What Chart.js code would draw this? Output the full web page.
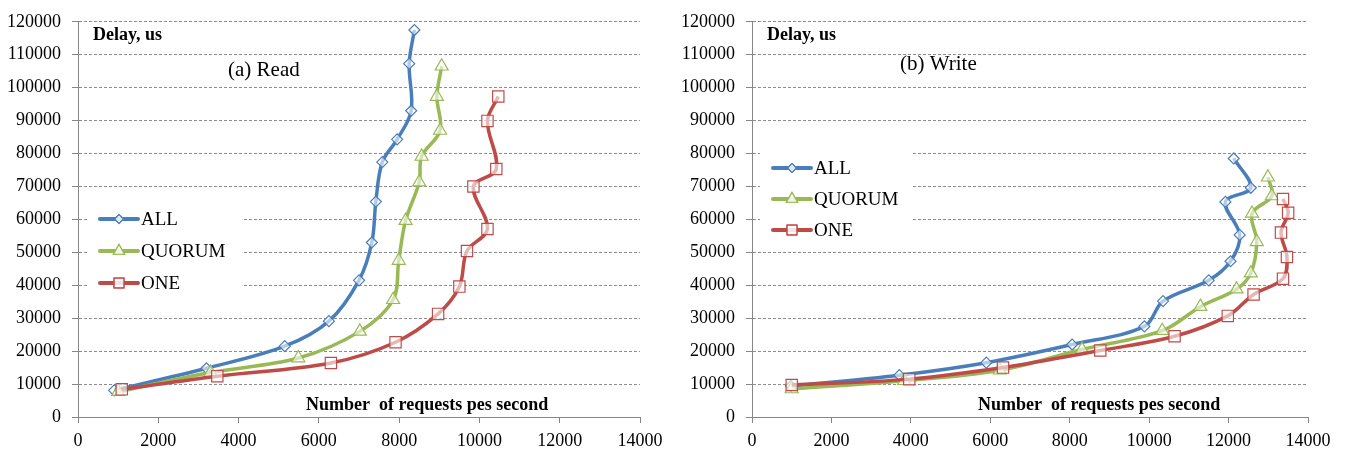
<!DOCTYPE html>
<html>
<head>
<meta charset="utf-8">
<script src="https://cdn.jsdelivr.net/npm/chart.js@4.4.0/dist/chart.umd.min.js"></script>
<style>
  body { margin: 0; background: #fff; }
  #wrap { position: relative; width: 1348px; height: 450px; }
  .box { position: absolute; top: 0; width: 674px; height: 450px; }
</style>
</head>
<body>
<div id="wrap">
  <div class="box" style="left:0"><canvas id="readChart" width="674" height="450"></canvas></div>
  <div class="box" style="left:674px"><canvas id="writeChart" width="674" height="450"></canvas></div>
</div>
<script>
// series / labels
var seriesNames = ['ALL', 'QUORUM', 'ONE'];
var xTicks = [0, 2000, 4000, 6000, 8000, 10000, 12000, 14000];
var yTicks = [0, 10000, 20000, 30000, 40000, 50000, 60000, 70000, 80000, 90000, 100000, 110000, 120000];

// (a) Read
var readAllX = [900, 3200, 5150, 6250, 7000, 7320, 7420, 7580, 7950, 8300, 8250, 8380];
var readAllY = [8100, 14800, 21500, 29100, 41500, 53000, 65400, 77400, 84300, 93000, 107300, 117500];
var readQuorumX = [1000, 3300, 5490, 7020, 7850, 7990, 8160, 8500, 8560, 9020, 8940, 9060];
var readQuorumY = [7700, 13500, 17900, 26000, 35600, 47500, 59600, 71300, 79100, 87000, 97300, 106500];
var readOneX = [1090, 3470, 6300, 7910, 8970, 9500, 9690, 10200, 9850, 10420, 10200, 10470];
var readOneY = [8400, 12400, 16400, 22700, 31300, 39600, 50400, 57100, 70000, 75300, 89900, 97300];

// (b) Write
var writeAllX = [980, 3710, 5900, 8060, 9880, 10350, 11500, 12050, 12280, 11920, 12560, 12130];
var writeAllY = [9400, 12700, 16500, 22000, 27500, 35200, 41500, 47300, 55300, 65300, 69600, 78500];
var writeQuorumX = [1000, 3830, 6240, 8310, 10330, 11290, 12200, 12560, 12710, 12590, 13090, 12990];
var writeQuorumY = [8500, 11000, 14200, 20500, 26200, 33500, 38800, 43700, 53200, 61800, 67100, 72800];
var writeOneX = [1000, 3960, 6320, 8770, 10640, 11980, 12630, 13370, 13470, 13320, 13500, 13370];
var writeOneY = [9700, 11500, 15000, 20200, 24500, 30700, 37200, 42000, 48600, 56000, 62000, 66200];

var colors = ['#4A7EBB', '#98B954', '#BE4B48'];
var shapes = ['rectRot', 'triangle', 'rect'];
var radii = [5.5, 7.5, 8];
var FONT = '"Liberation Serif", "Times New Roman", serif';

function pts(xs, ys) {
    var out = [];
    for (var i = 0; i < xs.length; i++) out.push({ x: xs[i], y: ys[i] });
    return out;
}

function makeSet(i, xs, ys) {
    return {
        label: seriesNames[i],
        data: pts(xs, ys),
        showLine: true,
        borderColor: colors[i],
        borderWidth: 3.5,
        tension: 0.35,
        pointStyle: shapes[i],
        pointRadius: radii[i],
        pointBorderWidth: 1.2,
        pointBorderColor: colors[i],
        pointBackgroundColor: 'rgba(255,255,255,0.6)',
        order: 3 - i
    };
}

// titles, axis captions and the legend box
var notes = {
    id: 'notes',
    afterDatasetsDraw: function (chart, args, o) {
        var ctx = chart.ctx;
        ctx.save();
        // legend
        var L = o.legend;
        ctx.fillStyle = '#fff';
        ctx.fillRect(L.box[0], L.box[1], L.box[2], L.box[3]);
        for (var i = 0; i < 3; i++) {
            var y = L.y + i * L.dy;
            ctx.beginPath();
            ctx.strokeStyle = colors[i];
            ctx.lineWidth = 4;
            ctx.lineCap = 'round';
            ctx.moveTo(L.x, y);
            ctx.lineTo(L.x + 38, y);
            ctx.stroke();
            ctx.lineWidth = 1.2;
            ctx.fillStyle = 'rgba(255,255,255,0.6)';
            Chart.helpers.drawPoint(ctx, { pointStyle: shapes[i], radius: radii[i] - 1, rotation: 0, borderWidth: 1.2 }, L.x + 19, y);
            ctx.fill();
            ctx.stroke();
            ctx.fillStyle = '#000';
            ctx.font = '19px ' + FONT;
            ctx.textAlign = 'left';
            ctx.textBaseline = 'middle';
            ctx.fillText(seriesNames[i], L.x + 41, y + 1);
        }
        // texts
        ctx.fillStyle = '#000';
        ctx.textBaseline = 'middle';
        ctx.textAlign = 'left';
        o.texts.forEach(function (t) {
            ctx.font = t.font;
            ctx.fillText(t.text, t.x, t.y);
        });
        ctx.restore();
    }
};

function makeChart(id, sets, rightPad, legend, title, capX) {
    return new Chart(document.getElementById(id), {
        type: 'scatter',
        data: { datasets: sets },
        plugins: [notes],
        options: {
            responsive: false,
            animation: false,
            layout: { padding: { top: 17, right: rightPad, bottom: 0, left: 0 } },
            plugins: {
                legend: { display: false },
                tooltip: { enabled: false },
                notes: {
                    legend: legend,
                    texts: [
                        { text: 'Delay, us', x: 93, y: 35, font: 'bold 18px ' + FONT },
                        { text: title.text, x: title.x, y: title.y, font: '21px ' + FONT },
                        { text: 'Number  of requests pes second', x: capX, y: 405, font: 'bold 18px ' + FONT }
                    ]
                }
            },
            scales: {
                x: {
                    type: 'linear',
                    min: xTicks[0],
                    max: xTicks[xTicks.length - 1],
                    afterFit: function (s) { s.height = 33; },
                    afterBuildTicks: function (s) { s.ticks = xTicks.map(function (v) { return { value: v }; }); },
                    grid: { drawOnChartArea: false, drawTicks: true, tickLength: 6, color: '#868686' },
                    border: { color: '#868686', width: 1 },
                    ticks: {
                        color: '#000', font: { family: FONT, size: 18 }, padding: 7, maxRotation: 0,
                        callback: function (v) { return String(v); }
                    }
                },
                y: {
                    type: 'linear',
                    min: yTicks[0],
                    max: yTicks[yTicks.length - 1],
                    afterFit: function (s) { s.width = 78; },
                    afterBuildTicks: function (s) { s.ticks = yTicks.map(function (v) { return { value: v }; }); },
                    grid: { color: '#8C8C8C', tickColor: '#868686', tickLength: 6, lineWidth: 1 },
                    border: { color: '#868686', width: 1, dash: [3, 2] },
                    ticks: {
                        color: '#000', font: { family: FONT, size: 18 }, padding: 11,
                        callback: function (v) { return String(v); }
                    }
                }
            }
        }
    });
}

makeChart('readChart', [
    makeSet(0, readAllX, readAllY),
    makeSet(1, readQuorumX, readQuorumY),
    makeSet(2, readOneX, readOneY)
], 34, { box: [88, 200, 154, 100], x: 100, y: 219, dy: 32 }, { text: '(a) Read', x: 228, y: 70 }, 306);

makeChart('writeChart', [
    makeSet(0, writeAllX, writeAllY),
    makeSet(1, writeQuorumX, writeQuorumY),
    makeSet(2, writeOneX, writeOneY)
], 40, { box: [86, 153, 153, 94], x: 99, y: 168, dy: 31 }, { text: '(b) Write', x: 226, y: 64 }, 304);
</script>
</body>
</html>
